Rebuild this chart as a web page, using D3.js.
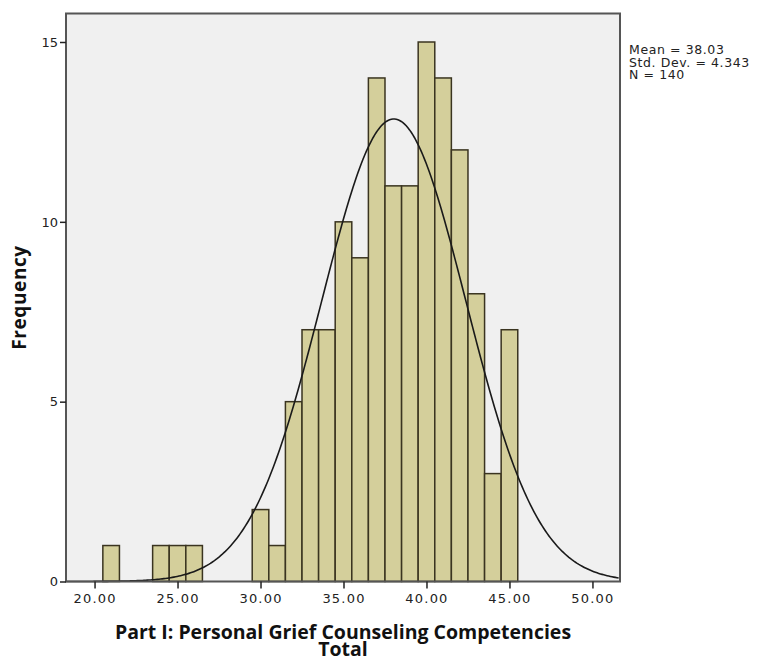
<!DOCTYPE html>
<html>
<head>
<meta charset="utf-8">
<script src="https://cdn.jsdelivr.net/npm/d3@7"></script>
<style>
  body { margin: 0; background: #fff; }
  svg { display: block; }
</style>
</head>
<body>
<svg width="757" height="662"></svg>
<script>
// histogram bins (1 unit wide, centred on the integer)
const binCentres = [21, 24, 25, 26, 30, 31, 32, 33, 34, 35, 36, 37, 38, 39, 40, 41, 42, 43, 44, 45];
const binCounts  = [1, 1, 1, 1, 2, 1, 5, 7, 7, 10, 9, 14, 11, 11, 15, 14, 12, 8, 3, 7];
const xTicks = [20, 25, 30, 35, 40, 45, 50];
const yTicks = [0, 5, 10, 15];
const stats = { mean: 38.03, sd: 4.343, n: 140 };
const statLines = ['Mean = 38.03', 'Std. Dev. = 4.343', 'N = 140'];

const svg = d3.select('svg');
const plotL = 66, plotR = 620, plotT = 13.5, plotB = 581.5;

const x = d3.scaleLinear().domain([18.28, 51.66]).range([plotL, plotR]);
const y = d3.scaleLinear().domain([0, 15]).range([plotB, 42]);

// plot background
svg.append('rect')
  .attr('x', plotL).attr('y', plotT)
  .attr('width', plotR - plotL).attr('height', plotB - plotT)
  .attr('fill', '#f0f0f0');

// bars
svg.append('g')
  .selectAll('rect')
  .data(binCentres.map((c, i) => ({ c: c, n: binCounts[i] })))
  .enter().append('rect')
  .attr('x', d => x(d.c - 0.5))
  .attr('y', d => y(d.n))
  .attr('width', d => x(d.c + 0.5) - x(d.c - 0.5))
  .attr('height', d => y(0) - y(d.n))
  .attr('fill', '#d4cf9b')
  .attr('stroke', '#3a3420')
  .attr('stroke-width', 1.5);

// normal curve
const curvePts = d3.range(x.domain()[0], x.domain()[1] + 0.001, 0.1).map(v => {
  const z = (v - stats.mean) / stats.sd;
  return [v, stats.n / (stats.sd * Math.sqrt(2 * Math.PI)) * Math.exp(-0.5 * z * z)];
});
svg.append('path')
  .datum(curvePts)
  .attr('fill', 'none')
  .attr('stroke', '#1a1a1a')
  .attr('stroke-width', 1.6)
  .attr('d', d3.line().x(d => x(d[0])).y(d => y(d[1])));

// frame
svg.append('rect')
  .attr('x', plotL).attr('y', plotT)
  .attr('width', plotR - plotL).attr('height', plotB - plotT)
  .attr('fill', 'none')
  .attr('stroke', '#555')
  .attr('stroke-width', 2);

// axes
const xAxis = svg.append('g')
  .attr('transform', `translate(0,${plotB})`)
  .call(d3.axisBottom(x).tickValues(xTicks).tickFormat(d3.format('.2f')).tickSize(7).tickPadding(5));
const yAxis = svg.append('g')
  .attr('transform', `translate(${plotL},0)`)
  .call(d3.axisLeft(y).tickValues(yTicks).tickSize(6).tickPadding(2));

[xAxis, yAxis].forEach(a => {
  a.select('.domain').remove();
  a.selectAll('line').attr('stroke', '#222').attr('stroke-width', 1.5);
  a.selectAll('text')
    .attr('fill', '#222')
    .style('font-family', '"DejaVu Sans", sans-serif')
    .style('font-size', '13px');
});
xAxis.selectAll('text').style('letter-spacing', '1.2px');

// axis titles
svg.append('text')
  .attr('transform', `translate(26,${(plotT + plotB) / 2}) rotate(-90)`)
  .attr('text-anchor', 'middle')
  .style('font-family', '"Open Sans", sans-serif')
  .style('font-weight', 'bold')
  .style('font-size', '19px')
  .style('letter-spacing', '0.6px')
  .attr('fill', '#111')
  .text('Frequency');

const xt = svg.append('text')
  .attr('text-anchor', 'middle')
  .style('font-family', '"Open Sans", sans-serif')
  .style('font-weight', 'bold')
  .style('font-size', '19.5px')
  .attr('fill', '#111');
xt.append('tspan').attr('x', (plotL + plotR) / 2).attr('y', 639).text('Part I: Personal Grief Counseling Competencies');
xt.append('tspan').attr('x', (plotL + plotR) / 2).attr('y', 656).text('Total');

// stats box
svg.append('g')
  .selectAll('text')
  .data(statLines)
  .enter().append('text')
  .attr('x', 629)
  .attr('y', (d, i) => 54 + i * 12.5)
  .style('font-family', '"DejaVu Sans", sans-serif')
  .style('font-size', '12.5px')
  .style('letter-spacing', '0.6px')
  .attr('fill', '#222')
  .text(d => d);
</script>
</body>
</html>
